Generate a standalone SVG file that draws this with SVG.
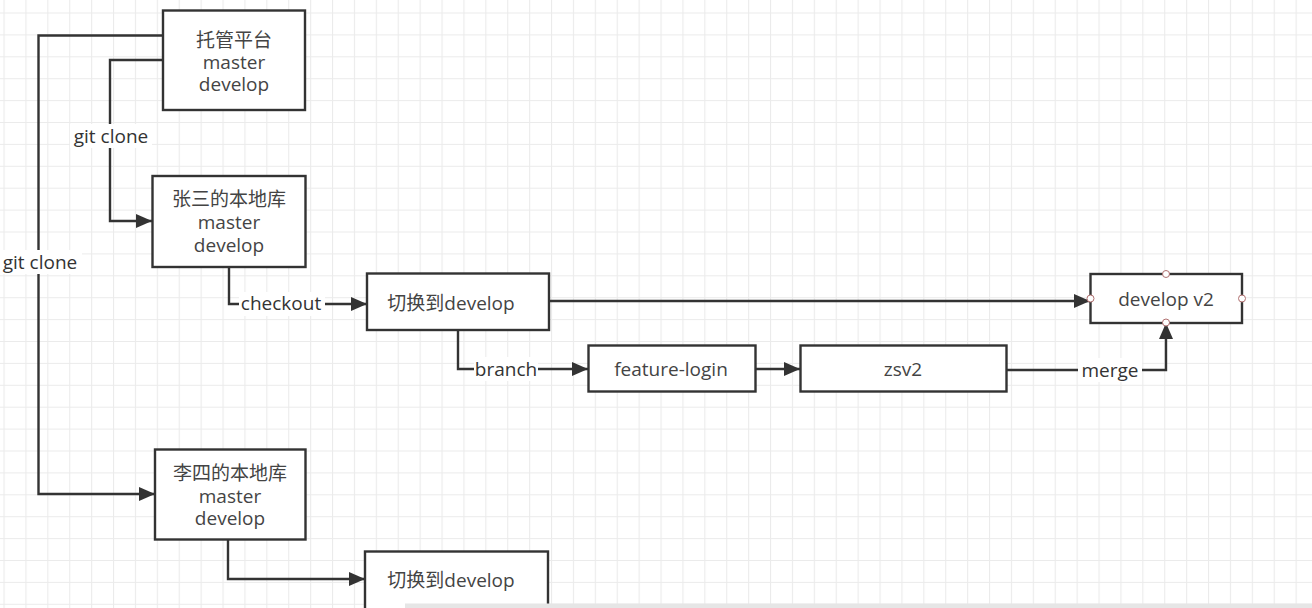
<svg xmlns="http://www.w3.org/2000/svg" width="1312" height="608" viewBox="0 0 1312 608">
<defs>
<pattern id="grid" x="3.5" y="12.5" width="21.9" height="21.9" patternUnits="userSpaceOnUse">
<path d="M0 0.5H21.9M0.5 0V21.9" fill="none" stroke="#ebebeb" stroke-width="1.2"/>
</pattern>
<marker id="arr" viewBox="0 0 16 14" refX="16" refY="7" markerWidth="16" markerHeight="14" markerUnits="userSpaceOnUse" orient="auto">
<path d="M0 0L16 7L0 14Z" fill="#333"/>
</marker>
<style>
.box{fill:#fff;stroke:#333;stroke-width:2.4}
.t{font-family:"Open Sans","Noto Sans CJK SC",sans-serif;font-size:19px;fill:#444;text-anchor:middle;dominant-baseline:central}
.lab{font-family:"Open Sans","Noto Sans CJK SC",sans-serif;font-size:19px;fill:#333;text-anchor:middle;dominant-baseline:central}
.ln{fill:none;stroke:#333;stroke-width:2.4}
.bg{fill:#fff}
.pt{fill:#fff;stroke:#b07070;stroke-width:1}
</style>
</defs>
<rect width="1312" height="608" fill="#fff"/>
<rect width="1312" height="608" fill="url(#grid)"/>
<g id="connectors">
<path class="ln" d="M163 35.5H38.5V494H155" marker-end="url(#arr)"/>
<path class="ln" d="M163 60H110V221H152" marker-end="url(#arr)"/>
<path class="ln" d="M229 267V304H367" marker-end="url(#arr)"/>
<path class="ln" d="M549 301H1090" marker-end="url(#arr)"/>
<path class="ln" d="M458 330V369H588" marker-end="url(#arr)"/>
<path class="ln" d="M756 369H800" marker-end="url(#arr)"/>
<path class="ln" d="M1007 370H1166V323" marker-end="url(#arr)"/>
<path class="ln" d="M228 540V579H365" marker-end="url(#arr)"/>
<rect class="bg" x="70" y="124" width="82" height="24"/>
<text class="lab" x="111" y="136">git clone</text>
<rect class="bg" x="0" y="250" width="82" height="24"/>
<text class="lab" x="40" y="262">git clone</text>
<rect class="bg" x="239" y="292" width="86" height="24"/>
<text class="lab" x="281" y="303">checkout</text>
<rect class="bg" x="474" y="357" width="64" height="24"/>
<text class="lab" x="506" y="369">branch</text>
<rect class="bg" x="1078" y="358" width="64" height="24"/>
<text class="lab" x="1110" y="370">merge</text>
</g>
<g id="n-tuoguan">
<rect class="box" x="163" y="10.5" width="142" height="99.5"/>
<text class="t" x="234" y="40">托管平台</text>
<text class="t" x="234" y="62">master</text>
<text class="t" x="234" y="84">develop</text>
</g>
<g id="n-zhangsan">
<rect class="box" x="152.5" y="176" width="153" height="91"/>
<text class="t" x="229" y="199">张三的本地库</text>
<text class="t" x="229" y="222">master</text>
<text class="t" x="229" y="245">develop</text>
</g>
<g id="n-checkout1">
<rect class="box" x="367" y="273.5" width="182" height="56.5"/>
<text class="t" x="451" y="303">切换到develop</text>
</g>
<g id="n-developv2">
<rect class="box" x="1090.5" y="274" width="151.5" height="49"/>
<text class="t" x="1166" y="299">develop v2</text>
<circle class="pt" cx="1166" cy="274" r="3.5"/>
<circle class="pt" cx="1090.5" cy="298.5" r="3.5"/>
<circle class="pt" cx="1242" cy="298.5" r="3.5"/>
<circle class="pt" cx="1166" cy="322.5" r="3.5"/>
</g>
<g id="n-feature">
<rect class="box" x="588.5" y="345.5" width="167" height="46"/>
<text class="t" x="671" y="369">feature-login</text>
</g>
<g id="n-zsv2">
<rect class="box" x="800.5" y="345.5" width="206" height="46"/>
<text class="t" x="903" y="369">zsv2</text>
</g>
<g id="n-lisi">
<rect class="box" x="155" y="449.5" width="150.5" height="90"/>
<text class="t" x="230" y="473">李四的本地库</text>
<text class="t" x="230" y="496">master</text>
<text class="t" x="230" y="518">develop</text>
</g>
<g id="n-checkout2">
<rect class="box" x="365" y="551.5" width="183" height="70"/>
<text class="t" x="451" y="580">切换到develop</text>
</g>
<rect x="405" y="603.5" width="907" height="5" fill="#e6e6e6"/>
</svg>
